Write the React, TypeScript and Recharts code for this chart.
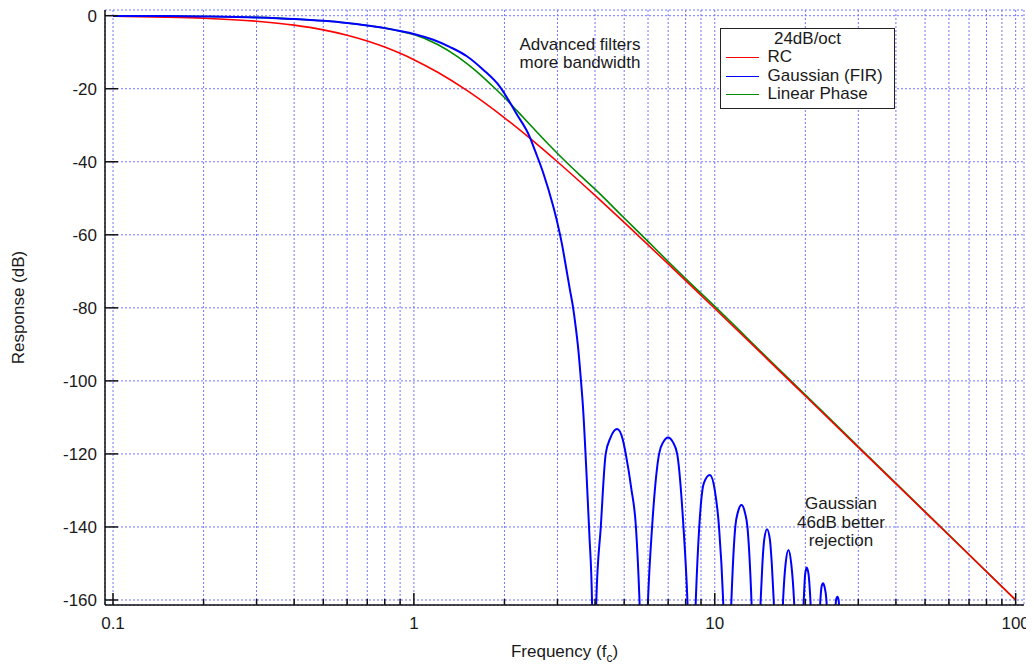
import React from "react"
import { LineChart, Line, XAxis, YAxis, CartesianGrid, Legend, Label } from "recharts"

const FONT = "'Liberation Sans', Arial, Helvetica, sans-serif"

// frequency axis (multiples of fc), log scale
const xTicks = [
  0.1, 0.2, 0.3, 0.4, 0.5, 0.6, 0.7, 0.8, 0.9,
  1, 2, 3, 4, 5, 6, 7, 8, 9,
  10, 20, 30, 40, 50, 60, 70, 80, 90, 100,
]
const xLabels = [0.1, 1, 10, 100]
const yTicks = [0, -20, -40, -60, -80, -100, -120, -140, -160]

// RC
const rcFreq = [0.1, 0.15, 0.2, 0.3, 0.4, 0.5, 0.6, 0.7, 0.8, 0.9, 1, 1.2, 1.5, 2, 2.5, 3, 4, 5, 7, 10, 15, 20, 30, 50, 70, 100]
const rcDb = [-0.17, -0.39, -0.68, -1.5, -2.58, -3.88, -5.34, -6.93, -8.59, -10.31, -12.04, -15.5, -20.47, -27.96, -34.41, -40, -49.22, -56.6, -67.96, -80.17, -94.16, -104.13, -118.19, -135.92, -147.61, -160]

// Linear phase
const lpFreq = [0.1, 0.15, 0.2, 0.3, 0.4, 0.5, 0.6, 0.7, 0.8, 0.9, 1, 1.2, 1.4, 1.6, 1.8, 2, 2.2, 2.5, 2.8, 3.2, 3.6, 4, 5, 6, 7, 8, 10, 15, 20, 30, 50, 100]
const lpDb = [-0.05, -0.1, -0.2, -0.47, -0.9, -1.4, -2.0, -2.7, -3.4, -4.25, -5.15, -7.9, -11.3, -15.0, -18.8, -22.4, -26.0, -30.9, -35.2, -40.0, -44.0, -47.5, -55.4, -61.8, -67.3, -72.0, -79.6, -93.8, -103.8, -118.0, -135.8, -160]

// Gaussian (FIR): main lobe, then the stop-band side lobes
const gaussFreq = [
  0.1, 0.15, 0.2, 0.3, 0.4, 0.5, 0.6, 0.7, 0.8, 0.9, 1, 1.16, 1.32, 1.5, 1.7, 1.93, 2.19, 2.43, 2.52, 2.69, 2.9, 3.0, 3.1, 3.2, 3.3, 3.38, 3.45, 3.52, 3.59, 3.65, 3.74, 3.83, 3.91, 3.95,
  4.04, 4.18, 4.34, 4.5, 4.74, 4.95, 5.06, 5.28, 5.47, 5.62, 5.8,
  6.0, 6.19, 6.53, 6.75, 7.0, 7.25, 7.5, 7.87, 8.11, 8.38,
  8.65, 8.88, 9.2, 9.63, 10.0, 10.33, 10.66, 11.0,
  11.36, 11.7, 11.95, 12.27, 12.6, 12.84, 13.24, 13.7,
  14.21, 14.4, 14.6, 14.92, 15.25, 15.47, 15.7, 16.3,
  16.87, 17.2, 17.58, 17.95, 18.34, 19.05,
  19.76, 19.97, 20.21, 20.5, 20.79, 21.6,
  22.44, 22.65, 22.9, 23.15, 23.5, 24.4,
  25.3, 25.56, 25.8, 26.5,
]
const gaussDb = [
  -0.05, -0.1, -0.2, -0.47, -0.9, -1.4, -2.0, -2.7, -3.4, -4.2, -5.0, -6.6, -8.6, -11.1, -14.8, -19.4, -26.8, -33.3, -36.7, -43.0, -52.0, -56.8, -62.2, -68.6, -75.0, -79.8, -85.2, -91.5, -99.7, -107.5, -124, -142, -161, -200,
  -160, -140, -120, -115.6, -113.2, -116.2, -120, -129.5, -140, -160, -200,
  -160, -140, -120, -116.7, -115.5, -116.7, -120, -140, -160, -200,
  -160, -140, -128, -125.8, -129.9, -140, -160, -200,
  -160, -140, -135.8, -134, -136.1, -140, -160, -200,
  -160, -150, -143.5, -140.6, -143.5, -150, -160, -200,
  -160, -150, -146.3, -150, -160, -200,
  -160, -153, -151.1, -153, -160, -200,
  -160, -156.3, -155.4, -156.3, -160, -200,
  -160, -159.1, -160, -200,
]

const legendTitle = "24dB/oct"
const legendOrder = ["RC", "Gaussian (FIR)", "Linear Phase"]

const toPoints = (f: number[], db: number[]) => f.map((v, i) => ({ f: v, db: db[i] }))
const rcData = toPoints(rcFreq, rcDb)
const lpData = toPoints(lpFreq, lpDb)
const gaussData = toPoints(gaussFreq, gaussDb)

const W = 1026
const H = 658
const xDomain = [0.09406, 106.6]
const yDomain = [-161.37, 1.56]
const axisLine = { stroke: "#111", strokeWidth: 1.5 }
const isMajor = (v: number) => xLabels.includes(v)

function BottomTick(props: any) {
  const { x, y, payload } = props
  const major = isMajor(payload.value)
  return (
    <g>
      <line x1={x} x2={x} y1={y} y2={y - (major ? 12 : 6)} stroke="#111" strokeWidth={1.5} />
      {major && (
        <text x={x} y={y + 24} textAnchor="middle" fontSize={17} fontFamily={FONT} fill="#1a1a1a">
          {String(payload.value)}
        </text>
      )}
    </g>
  )
}

function TopTick(props: any) {
  const { x, y, payload } = props
  const major = isMajor(payload.value)
  return <line x1={x} x2={x} y1={y} y2={y + (major ? 12 : 6)} stroke="#111" strokeWidth={1.5} />
}

function LeftTick(props: any) {
  const { x, y, payload } = props
  return (
    <g>
      <line x1={x} x2={x + 13} y1={y} y2={y} stroke="#111" strokeWidth={1.5} />
      <text x={x - 8} y={y + 6} textAnchor="end" fontSize={17} fontFamily={FONT} fill="#1a1a1a">
        {String(payload.value)}
      </text>
    </g>
  )
}

function RightTick(props: any) {
  const { x, y } = props
  return <line x1={x} x2={x - 10} y1={y} y2={y} stroke="#111" strokeWidth={1.5} />
}

function FreqLabel(props: any) {
  const { viewBox } = props
  const cx = viewBox.x + viewBox.width / 2
  return (
    <text x={cx} y={649} textAnchor="middle" fontSize={17} fontFamily={FONT} fill="#1a1a1a">
      Frequency (f<tspan dy={5} fontSize={12}>c</tspan>
      <tspan dy={-5}>)</tspan>
    </text>
  )
}

function RespLabel(props: any) {
  const { viewBox } = props
  const cy = viewBox.y + viewBox.height / 2
  return (
    <text x={16} y={cy} transform={`rotate(-90 16 ${cy})`} textAnchor="middle" fontSize={17} fontFamily={FONT} fill="#1a1a1a">
      Response (dB)
    </text>
  )
}

function LegendBox(props: any) {
  const payload: any[] = props.payload || []
  const items = legendOrder.map((n) => payload.find((p) => p.value === n)).filter(Boolean)
  return (
    <div
      style={{
        boxSizing: "border-box",
        width: 175,
        height: 81,
        border: "1.5px solid #222",
        background: "#fff",
        paddingTop: 1,
        fontFamily: FONT,
        fontSize: 17,
        lineHeight: "18.4px",
        color: "#1a1a1a",
      }}
    >
      <div style={{ textAlign: "center" }}>{legendTitle}</div>
      {items.map((it: any) => (
        <div key={it.value} style={{ whiteSpace: "nowrap" }}>
          <span
            style={{
              display: "inline-block",
              width: 33,
              height: 0,
              borderTop: `1.5px solid ${it.color}`,
              verticalAlign: "middle",
              marginLeft: 4.5,
              marginRight: 9,
            }}
          />
          {it.value}
        </div>
      ))}
    </div>
  )
}

const noteStyle: React.CSSProperties = {
  position: "absolute",
  width: 200,
  textAlign: "center",
  fontFamily: FONT,
  fontSize: 17,
  color: "#1a1a1a",
  pointerEvents: "none",
  whiteSpace: "nowrap",
}

export default function App() {
  return (
    <div style={{ position: "relative", width: W, height: H }}>
      <LineChart width={W} height={H} margin={{ top: 2, right: 10, bottom: 21, left: 0 }}>
        <CartesianGrid stroke="#7474ff" strokeDasharray="2 2" />
        <XAxis
          dataKey="f"
          type="number"
          scale="log"
          domain={xDomain}
          ticks={xTicks}
          interval={0}
          allowDataOverflow
          height={40}
          tickSize={0}
          tickMargin={0}
          tickLine={false}
          tick={BottomTick}
          axisLine={axisLine}
        >
          <Label content={FreqLabel} />
        </XAxis>
        <XAxis
          xAxisId="top"
          orientation="top"
          dataKey="f"
          type="number"
          scale="log"
          domain={xDomain}
          ticks={xTicks}
          interval={0}
          allowDataOverflow
          height={0}
          tickSize={0}
          tickMargin={0}
          tickLine={false}
          tick={TopTick}
          axisLine={axisLine}
        />
        <YAxis
          type="number"
          domain={yDomain}
          ticks={yTicks}
          interval={0}
          allowDataOverflow
          width={97}
          tickSize={0}
          tickMargin={0}
          tickLine={false}
          tick={LeftTick}
          axisLine={axisLine}
        >
          <Label content={RespLabel} />
        </YAxis>
        <YAxis
          yAxisId="right"
          orientation="right"
          type="number"
          domain={yDomain}
          ticks={yTicks}
          interval={0}
          allowDataOverflow
          width={0}
          tickSize={0}
          tickMargin={0}
          tickLine={false}
          tick={RightTick}
          axisLine={axisLine}
        />
        <Legend
          layout="vertical"
          align="center"
          verticalAlign="middle"
          content={LegendBox}
          wrapperStyle={{ left: 712, top: 20, width: 175, height: 81 }}
        />
        <Line data={lpData} dataKey="db" name="Linear Phase" type="monotone" stroke="#008a00" strokeWidth={1.6} dot={false} activeDot={false} isAnimationActive={false} />
        <Line data={rcData} dataKey="db" name="RC" type="monotone" stroke="#ff0000" strokeWidth={1.6} dot={false} activeDot={false} isAnimationActive={false} />
        <Line data={gaussData} dataKey="db" name="Gaussian (FIR)" type="monotone" stroke="#0000ff" strokeWidth={2} dot={false} activeDot={false} isAnimationActive={false} />
      </LineChart>
      <div style={{ ...noteStyle, left: 472, top: 28, lineHeight: "17.5px" }}>
        <div>Advanced filters</div>
        <div>more bandwidth</div>
      </div>
      <div style={{ ...noteStyle, left: 733, top: 487, lineHeight: "18.5px" }}>
        <div>Gaussian</div>
        <div>46dB better</div>
        <div>rejection</div>
      </div>
    </div>
  )
}
